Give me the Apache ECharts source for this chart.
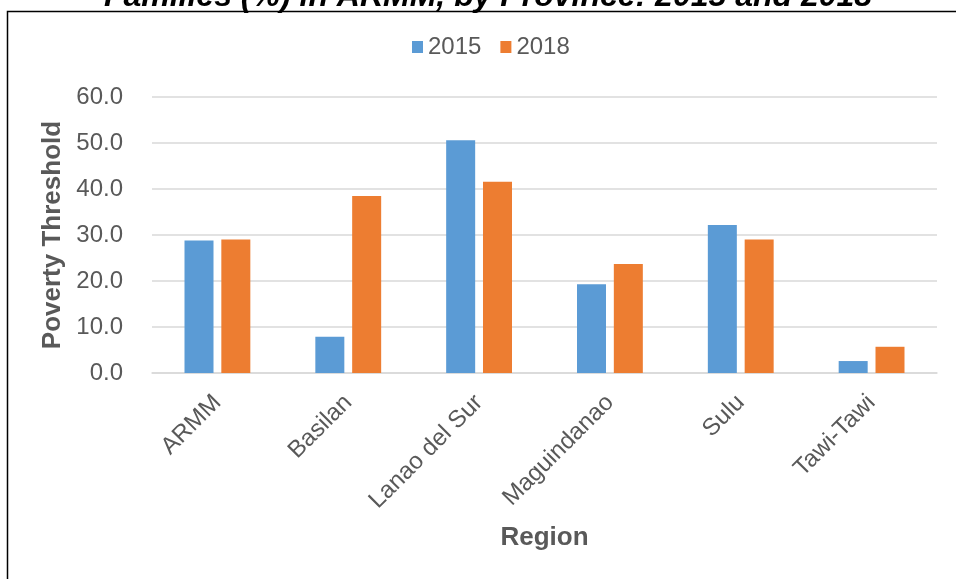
<!DOCTYPE html>
<html>
<head>
<meta charset="utf-8">
<script src="https://cdn.jsdelivr.net/npm/echarts@6/dist/echarts.min.js"></script>
<style>html,body{margin:0;padding:0;background:#fff}#c{width:956px;height:579px}</style>
</head>
<body>
<div id="c"></div>
<script>
const categories = ['ARMM', 'Basilan', 'Lanao del Sur', 'Maguindanao', 'Sulu', 'Tawi-Tawi'];
const values2015 = [28.8, 7.9, 50.6, 19.3, 32.2, 2.6];
const values2018 = [29.0, 38.5, 41.6, 23.7, 29.0, 5.7];
const seriesNames = ['2015', '2018'];
const yTicks = { min: 0, max: 60, interval: 10 };

const FONT = '"Liberation Sans", Arial, sans-serif';
const chart = echarts.init(document.getElementById('c'), null, { renderer: 'canvas' });
chart.setOption({
  animation: false,
  backgroundColor: '#ffffff',
  title: {
    text: 'Families (%) in ARMM, by Province: 2015 and 2018',
    left: 488, top: -19, textAlign: 'center', padding: 0,
    textStyle: { fontFamily: FONT, fontSize: 32, fontWeight: 'bold', fontStyle: 'italic', color: '#000' }
  },
  graphic: [{
    type: 'rect', left: 5, top: 9, z: -1,
    shape: { width: 1000, height: 640 },
    style: { fill: 'none', stroke: '#000', lineWidth: 1.5 }
  }],
  legend: {
    left: 412, top: 35, itemWidth: 11, itemHeight: 12, itemGap: 19, padding: 0,
    icon: 'rect',
    textStyle: { fontFamily: FONT, fontSize: 24, color: '#595959' },
    data: seriesNames
  },
  grid: { left: 152, right: 19, top: 97, bottom: 206 },
  xAxis: {
    type: 'category', data: categories,
    axisLine: { lineStyle: { color: '#d9d9d9', width: 1.5 } },
    axisTick: { show: false },
    axisLabel: { rotate: 45, interval: 0, margin: 26, fontFamily: FONT, fontSize: 24, color: '#595959' },
    name: 'Region', nameLocation: 'middle', nameGap: 152,
    nameTextStyle: { fontFamily: FONT, fontSize: 26, fontWeight: 'bold', color: '#595959' }
  },
  yAxis: {
    type: 'value', min: yTicks.min, max: yTicks.max, interval: yTicks.interval,
    axisLine: { show: false }, axisTick: { show: false },
    splitLine: { lineStyle: { color: '#d9d9d9', width: 1.5 } },
    axisLabel: { margin: 29, fontFamily: FONT, fontSize: 24, color: '#595959', formatter: v => v.toFixed(1) },
    name: 'Poverty Threshold', nameLocation: 'middle', nameGap: 85, nameRotate: 90,
    nameTextStyle: { fontFamily: FONT, fontSize: 26, fontWeight: 'bold', color: '#595959' }
  },
  series: [
    { name: seriesNames[0], type: 'bar', data: values2015, barWidth: 29, barGap: '27%', itemStyle: { color: '#5b9bd5' } },
    { name: seriesNames[1], type: 'bar', data: values2018, barWidth: 29, barGap: '27%', itemStyle: { color: '#ed7d31' } }
  ]
});
</script>
</body>
</html>
